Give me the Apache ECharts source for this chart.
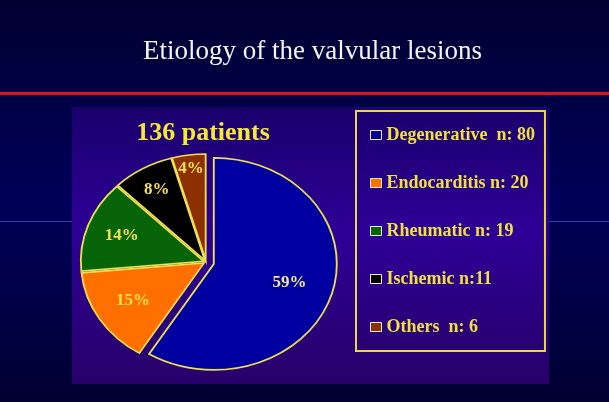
<!DOCTYPE html>
<html>
<head>
<meta charset="utf-8">
<script src="https://cdn.jsdelivr.net/npm/echarts@6/dist/echarts.min.js"></script>
<style>
html,body{margin:0;padding:0;background:#000040;}
#chart{width:609px;height:402px;}
</style>
</head>
<body>
<div id="chart"></div>
<script>
// ---- data ----
const titleText = 'Etiology of the valvular lesions';
const totalLabel = '136 patients';
const categories = ['Degenerative', 'Endocarditis', 'Rheumatic', 'Ischemic', 'Others'];
const counts = [80, 20, 19, 11, 6];
const legendLabels = ['Degenerative  n: 80', 'Endocarditis n: 20', 'Rheumatic n: 19', 'Ischemic n:11', 'Others  n: 6'];

// ---- styling / layout ----
const sliceColors = ['#0000a0', '#ff7000', '#086408', '#000000', '#8c3000'];
const explode = [7, 2, 2, 2, 2];
const labelFrac = [0.64, 0.68, 0.71, 0.77, 0.87];
const PIE_CX = 206, PIE_CY = 262, PIE_RY = 106, PIE_SX = 123 / 106;

const total = counts.reduce((a, b) => a + b, 0);
const starts = [];
counts.reduce((acc, v, i) => { starts[i] = acc; return acc + v; }, 0);

function renderSlice(params, api) {
  const idx = api.value(0);
  const start = api.value(1);
  const val = api.value(2);
  const a0 = -Math.PI / 2 + start / total * 2 * Math.PI;
  const a1 = a0 + val / total * 2 * Math.PI;
  const mid = (a0 + a1) / 2;
  const ex = explode[idx];
  const cx = PIE_CX + Math.cos(mid) * ex * PIE_SX;
  const cy = PIE_CY + Math.sin(mid) * ex;
  const lf = labelFrac[idx];
  const lx = cx + Math.cos(mid) * PIE_RY * lf * PIE_SX;
  const ly = cy + Math.sin(mid) * PIE_RY * lf;
  return {
    type: 'group',
    children: [
      {
        type: 'sector',
        x: cx, y: cy, scaleX: PIE_SX, scaleY: 1,
        shape: { cx: 0, cy: 0, r0: 0, r: PIE_RY, startAngle: a0, endAngle: a1, clockwise: true },
        style: { fill: api.visual('color'), stroke: '#ece050', lineWidth: 1.6, strokeNoScale: true }
      },
      {
        type: 'text',
        x: lx, y: ly,
        style: {
          text: Math.round(val / total * 100) + '%',
          fill: idx === 0 ? '#f0e68c' : '#f2e050',
          font: 'bold 17px "Liberation Serif"',
          align: 'center', verticalAlign: 'middle'
        }
      }
    ]
  };
}

const chart = echarts.init(document.getElementById('chart'), null, { renderer: 'canvas' });

const series = categories.map((name, i) => ({
  name: name,
  type: 'custom',
  coordinateSystem: 'none',
  renderItem: renderSlice,
  data: [[i, starts[i], counts[i]]],
  z: 3
}));

const option = {
  animation: false,
  backgroundColor: '#000040',
  color: sliceColors,
  title: {
    text: titleText,
    left: 143,
    top: 38,
    padding: 0,
    textStyle: { color: '#f4f4f8', fontFamily: 'Liberation Serif', fontWeight: 'normal', fontSize: 27 }
  },
  legend: {
    orient: 'vertical',
    left: 356,
    top: 111,
    padding: [15, 10, 15, 14],
    itemGap: 30,
    itemWidth: 11,
    itemHeight: 9,
    icon: 'rect',
    borderColor: '#e8d850',
    borderWidth: 2,
    itemStyle: { borderColor: '#f0f0c8', borderWidth: 1 },
    data: categories,
    formatter: function (name) { return legendLabels[categories.indexOf(name)]; },
    textStyle: { color: '#f0e040', fontFamily: 'Liberation Serif', fontWeight: 'bold', fontSize: 18, padding: [0, 0, 0, 0] },
    selectedMode: false
  },
  graphic: [
    {
      type: 'rect', z: -10, silent: true,
      shape: { x: 0, y: 0, width: 609, height: 402 },
      style: {
        fill: new echarts.graphic.LinearGradient(0, 0, 0, 1, [
          { offset: 0, color: '#000030' },
          { offset: 0.5, color: '#00005a' },
          { offset: 1, color: '#000032' }
        ])
      }
    },
    {
      type: 'rect', z: -9, silent: true,
      shape: { x: 0, y: 92, width: 609, height: 3 },
      style: { fill: '#e0141e' }
    },
    {
      type: 'rect', z: -9, silent: true,
      shape: { x: 0, y: 221, width: 609, height: 1 },
      style: { fill: 'rgba(110,110,220,0.55)' }
    },
    {
      type: 'rect', z: -8, silent: true,
      shape: { x: 72, y: 107, width: 477, height: 277 },
      style: {
        fill: new echarts.graphic.LinearGradient(0, 0, 0, 1, [
          { offset: 0, color: '#1a006c' },
          { offset: 0.45, color: '#2d0096' },
          { offset: 1, color: '#28006a' }
        ])
      }
    },
    {
      type: 'text', z: 5,
      x: 203, y: 133,
      style: {
        text: totalLabel,
        fill: '#f5ea30',
        font: 'bold 26px "Liberation Serif"',
        align: 'center', verticalAlign: 'middle'
      }
    }
  ],
  series: series
};

chart.setOption(option);
</script>
</body>
</html>
